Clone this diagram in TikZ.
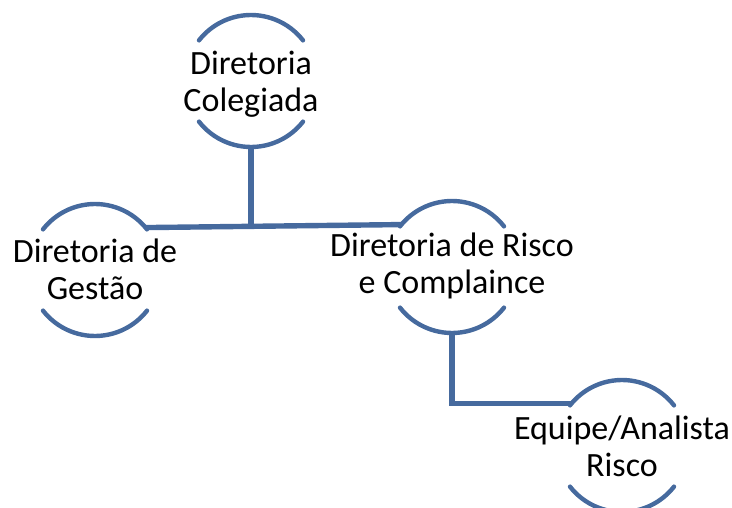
\documentclass[tikz,border=0pt]{standalone}
\usepackage{fontspec}
\setmainfont{Carlito}
\definecolor{orgblue}{RGB}{70,106,158}
\tikzset{
  ring/.style = {circle, minimum size = 132pt, inner sep = 0pt, outer sep = 0pt},
  arcline/.style = {orgblue, line width = 4.4pt, line cap = round},
  link/.style = {orgblue, line width = 5.4pt},
  txt/.style = {align = center, font = \fontsize{34}{37}\selectfont, inner sep = 0pt}
}
\begin{document}
\begin{tikzpicture} [x = 1pt, y = -1pt]
			\useasboundingbox (0,0) rectangle (732,508);
			\node[ring] (cole) at (251,81) {};
			\node[ring] (gest) at (95,270) {};
			\node[ring] (risco) at (452,267) {};
			\node[ring] (equipe) at (622,446) {};
			
			\foreach \n in {cole, gest, risco, equipe} {
				\draw [arcline] (\n.38) arc [start angle = 38, end angle = 142, radius = 66pt];
				\draw [arcline] (\n.218) arc [start angle = 218, end angle = 322, radius = 66pt];
			}
			
			\draw [link] (gest.40) -- (risco.140) ;
			\draw [link] (cole.south) -- (cole.south |- gest.40) ;
			\draw [link] (risco.south) |- (equipe.140) ;
			
			\node[txt] (colet) at (251,84) {Diretoria\\Colegiada};
			\node[txt] (gestt) at (95,269) {Diretoria de\\Gestão};
			\node[txt] (riscot) at (452,266) {Diretoria de Risco\\e Complaince};
			\node[txt] (equipet) at (622,446) {Equipe/Analista\\Risco};
		\end{tikzpicture}
\end{document}
